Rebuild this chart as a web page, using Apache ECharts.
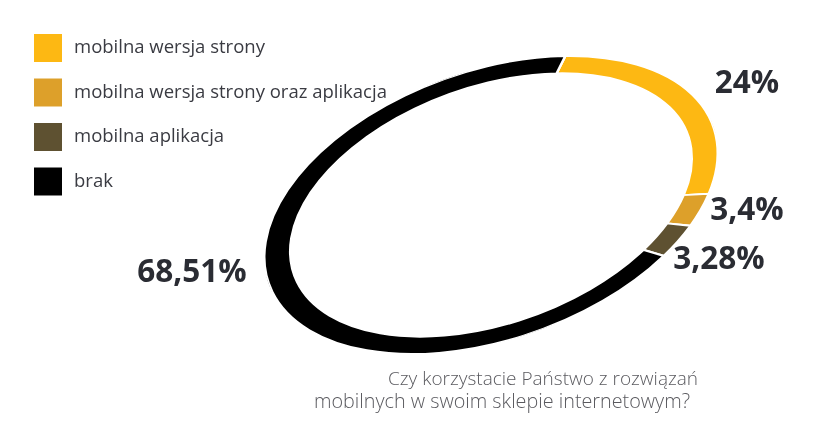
<!DOCTYPE html>
<html>
<head>
<meta charset="utf-8">
<script src="https://cdn.jsdelivr.net/npm/echarts@6/dist/echarts.min.js"></script>
<style>
  html, body { margin: 0; padding: 0; background: #fff; overflow: hidden; }
  #wrap { position: relative; width: 827px; height: 439px; overflow: hidden; }
  #ring { position: absolute; left: 254.5px; top: -31px; width: 472px; height: 472px;
          transform-origin: 50% 50%; transform: rotate(-19.5deg) scaleY(0.5685); }
  #overlay { position: absolute; left: 0; top: 0; width: 827px; height: 439px; }
</style>
</head>
<body>
<div id="wrap">
  <div id="ring"></div>
  <div id="overlay"></div>
</div>
<script>
const categories = ['mobilna wersja strony', 'mobilna wersja strony oraz aplikacja', 'mobilna aplikacja', 'brak'];
const values = [24, 3.4, 3.28, 68.51];
const colors = ['#FDB813', '#DDA02A', '#5E5131', '#000000'];
const titleLines = ['Czy korzystacie Państwo z rozwiązań', 'mobilnych w swoim sklepie internetowym?'];
// label anchor points (page pixels) for value labels
const labelPos = [[747, 84], [747, 211], [719, 260], [192, 273]];

const pieData = categories.map((c, i) => ({ name: c, value: values[i], itemStyle: { color: colors[i] } }));
const fmt = v => String(v).replace('.', ',') + '%';

const ring = echarts.init(document.getElementById('ring'), null, { renderer: 'svg' });
ring.setOption({
  animation: false,
  series: [{
    type: 'pie',
    center: ['50%', '50%'],
    radius: ['88.4%', '100%'],
    startAngle: 59.5,
    clockwise: true,
    silent: true,
    label: { show: false },
    labelLine: { show: false },
    itemStyle: { borderColor: '#ffffff', borderWidth: 3 },
    data: pieData
  }]
});

const overlay = echarts.init(document.getElementById('overlay'), null, { renderer: 'canvas' });
overlay.setOption({
  animation: false,
  legend: {
    orient: 'vertical',
    left: 34,
    top: 34,
    padding: 0,
    itemWidth: 28,
    itemHeight: 28,
    itemGap: 16.5,
    icon: 'rect',
    selectedMode: false,
    textStyle: { fontFamily: 'Open Sans', fontSize: 18.5, color: '#3a3b42', padding: [0, 0, 0, 7] },
    data: categories
  },
  series: [{
    type: 'pie',
    radius: [0, 0],
    center: [-200, -200],
    silent: true,
    label: { show: false },
    labelLine: { show: false },
    data: pieData
  }],
  graphic: [
    ...values.map((v, i) => ({
      type: 'text',
      x: labelPos[i][0],
      y: labelPos[i][1],
      style: {
        text: fmt(v),
        fontFamily: 'Open Sans',
        fontWeight: 'bold',
        fontSize: 31.5,
        fill: '#2a2c33',
        align: 'center',
        verticalAlign: 'middle'
      }
    })),
    {
      type: 'text', x: 698, y: 380,
      style: { text: titleLines[0], fontFamily: 'Open Sans', fontWeight: 300, fontSize: 19, fill: '#5a5a5f', align: 'right', verticalAlign: 'middle' }
    },
    {
      type: 'text', x: 690, y: 402,
      style: { text: titleLines[1], fontFamily: 'Open Sans', fontWeight: 300, fontSize: 19.8, fill: '#5a5a5f', align: 'right', verticalAlign: 'middle' }
    }
  ]
});
</script>
</body>
</html>
